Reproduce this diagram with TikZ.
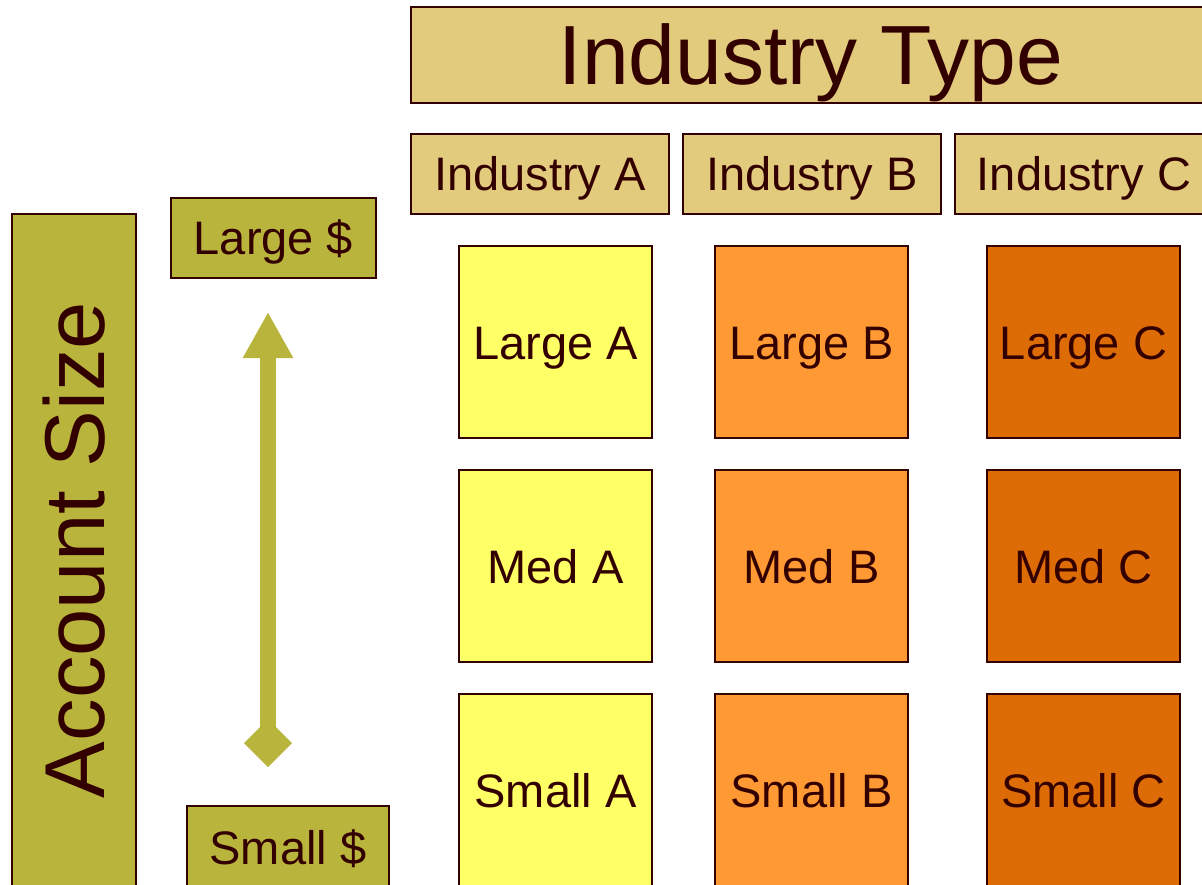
\documentclass[tikz,border=0pt]{standalone}
\usepackage{fontspec}
\setmainfont{Liberation Sans}
\usetikzlibrary{arrows.meta}

\definecolor{inkbrown}{HTML}{330000}
\definecolor{headtan}{HTML}{E3CB7E}
\definecolor{olivebox}{HTML}{B9B53C}
\definecolor{colA}{HTML}{FFFF66}
\definecolor{colB}{HTML}{FF9933}
\definecolor{colC}{HTML}{DD6B06}

\tikzset{
  box/.style={draw=inkbrown, line width=2pt, inner sep=0pt, text=inkbrown,
              font=\fontsize{47}{50}\selectfont, text height=34pt, text depth=0pt},
  headbox/.style={box, fill=headtan},
  sizebox/.style={box, fill=olivebox},
  cell/.style={box, minimum width=193pt, minimum height=192pt},
  cellA/.style={cell, fill=colA},
  cellB/.style={cell, fill=colB},
  cellC/.style={cell, fill=colC},
  sizearrow/.style={olivebox, line width=16pt,
              {Diamond[length=48pt,width=48pt]}-{Triangle[length=46pt,width=47pt]}}
}

\begin{document}
\begin{tikzpicture}[x=1pt,y=-1pt]
\useasboundingbox (0,0) rectangle (1202,885);
\clip (0,0) rectangle (1202,885);
\fill[white] (0,0) rectangle (1202,885);

% column headings
\node[headbox, minimum width=800pt, minimum height=96pt,
      font=\fontsize{84}{88}\selectfont, text height=60pt] (type) at (811,55) {Industry Type};
\node[headbox, minimum width=258pt, minimum height=80pt] (indA) at (540,174) {Industry A};
\node[headbox, minimum width=258pt, minimum height=80pt] (indB) at (812,174) {Industry B};
\node[headbox, minimum width=258pt, minimum height=80pt] (indC) at (1084,174) {Industry C};

% row heading and size scale
\node[sizebox, rotate=90, minimum width=672pt, minimum height=124pt,
      font=\fontsize{85}{88}\selectfont, text height=61pt] (acct) at (74,550) {Account Size};
\node[sizebox, minimum width=205pt, minimum height=80pt] (big) at (273.5,238) {Large \$};
\node[sizebox, minimum width=202pt, minimum height=82pt] (small) at (288,847) {Small \$};

\coordinate (scalelow) at (268,767);
\coordinate (scalehigh) at (268,312);
\draw[sizearrow] (scalelow) -- (scalehigh);

% grid of segments
\node[cellA] (LA) at (555.5,342) {Large A};
\node[cellB] (LB) at (811.5,342) {Large B};
\node[cellC] (LC) at (1083.5,342) {Large C};
\node[cellA] (MA) at (555.5,566) {Med A};
\node[cellB] (MB) at (811.5,566) {Med B};
\node[cellC] (MC) at (1083.5,566) {Med C};
\node[cellA] (SA) at (555.5,790) {Small A};
\node[cellB] (SB) at (811.5,790) {Small B};
\node[cellC] (SC) at (1083.5,790) {Small C};
\end{tikzpicture}
\end{document}
